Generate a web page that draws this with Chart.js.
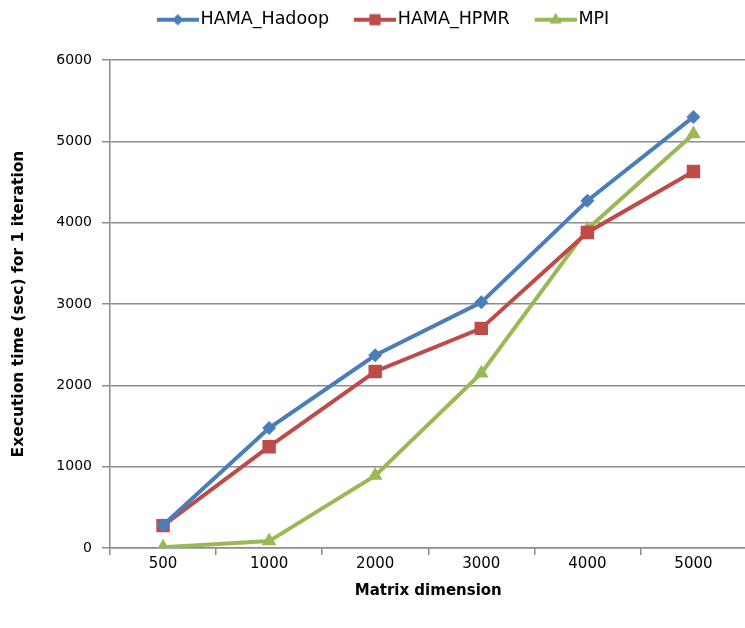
<!DOCTYPE html>
<html>
<head>
<meta charset="utf-8">
<script src="https://cdn.jsdelivr.net/npm/chart.js@4/dist/chart.umd.min.js"></script>
<style>
  html, body { margin: 0; padding: 0; background: #fff; overflow: hidden; }
  /* the plot runs a little past the right edge, as in the original */
  #wrap { width: 745px; height: 628px; overflow: hidden; }
</style>
</head>
<body>
<div id="wrap"><canvas id="chart" width="756" height="628"></canvas></div>
<script>
// --- DATA ---
const categories = ['500', '1000', '2000', '3000', '4000', '5000'];
const hadoopValues = [280, 1475, 2370, 3020, 4270, 5300];
const hpmrValues = [275, 1245, 2170, 2700, 3880, 4630];
const mpiValues = [10, 85, 890, 2150, 3920, 5090];
const yTicks = [0, 1000, 2000, 3000, 4000, 5000, 6000];

// --- STYLE ---
const BLUE = '#4A7EBB';
const RED = '#BE4B48';
const GREEN = '#98B954';
const GRID = '#8C8C8C';

// small line+marker icon for legend (Excel style), transparent margin on the left
function legendIcon(color, style, radius) {
    const c = document.createElement('canvas');
    c.width = 63; c.height = 18;
    const ctx = c.getContext('2d');
    ctx.strokeStyle = color;
    ctx.lineWidth = 4;
    ctx.beginPath();
    ctx.moveTo(21, 9);
    ctx.lineTo(63, 9);
    ctx.stroke();
    ctx.fillStyle = color;
    Chart.helpers.drawPoint(ctx, { pointStyle: style, radius: radius, borderWidth: 0 }, 42, 9);
    ctx.fill();
    return c;
}

const series = [
    { label: 'HAMA_Hadoop', data: hadoopValues, color: BLUE, style: 'rectRot', radius: 7 },
    { label: 'HAMA_HPMR', data: hpmrValues, color: RED, style: 'rect', radius: 9.5 },
    { label: 'MPI', data: mpiValues, color: GREEN, style: 'triangle', radius: 8.5 }
];

// make the legend box taller so the plot starts lower
const legendHeight = {
    id: 'legendHeight',
    beforeInit(chart) {
        const fit = chart.legend.fit;
        chart.legend.fit = function() {
            fit.bind(chart.legend)();
            this.height = 60;
        };
    }
};

new Chart(document.getElementById('chart'), {
    type: 'line',
    data: {
        labels: categories,
        datasets: series.map(s => ({
            label: s.label,
            data: s.data,
            borderColor: s.color,
            backgroundColor: s.color,
            borderWidth: 4,
            pointStyle: s.style,
            pointRadius: s.radius,
            pointHoverRadius: s.radius,
            pointBorderWidth: 0,
            tension: 0,
            fill: false
        }))
    },
    options: {
        responsive: false,
        animation: false,
        layout: { padding: { left: 0, right: 4, top: 0, bottom: 0 } },
        plugins: {
            tooltip: { enabled: false },
            legend: {
                position: 'top',
                labels: {
                    usePointStyle: true,
                    pointStyleWidth: 49,
                    padding: 11,
                    color: '#000',
                    font: { family: 'DejaVu Sans', size: 17.5 },
                    generateLabels(chart) {
                        return series.map((s, i) => ({
                            text: s.label,
                            pointStyle: legendIcon(s.color, s.style, s.radius * 0.8),
                            fillStyle: s.color,
                            strokeStyle: s.color,
                            lineWidth: 0,
                            hidden: false,
                            datasetIndex: i
                        }));
                    }
                }
            }
        },
        scales: {
            x: {
                offset: true,
                grid: {
                    offset: true,
                    drawOnChartArea: false,
                    drawTicks: true,
                    tickLength: 7,
                    color: GRID,
                    lineWidth: 1.5
                },
                border: { color: GRID, width: 1.5 },
                ticks: { color: '#000', padding: 0, font: { family: 'DejaVu Sans', size: 15 } },
                title: {
                    display: true,
                    text: 'Matrix dimension',
                    color: '#000',
                    padding: { top: 0, bottom: 28 },
                    font: { family: 'DejaVu Sans', size: 15, weight: 'bold' }
                },
                afterFit(s) { s.height = 80; }
            },
            y: {
                min: 0,
                max: 6000,
                afterBuildTicks(s) { s.ticks = yTicks.map(v => ({ value: v })); },
                grid: {
                    color: GRID,
                    lineWidth: 1.5,
                    drawTicks: true,
                    tickLength: 8
                },
                border: { color: GRID, width: 1.5 },
                ticks: {
                    color: '#000',
                    padding: 10,
                    font: { family: 'DejaVu Sans', size: 14 },
                    callback: v => String(v)
                },
                title: {
                    display: true,
                    text: 'Execution time (sec) for 1 iteration',
                    color: '#000',
                    padding: { top: 10, bottom: 0 },
                    font: { family: 'DejaVu Sans', size: 15.5, weight: 'bold' }
                },
                afterFit(s) { s.width = 110; }
            }
        }
    },
    plugins: [legendHeight]
});
</script>
</body>
</html>
